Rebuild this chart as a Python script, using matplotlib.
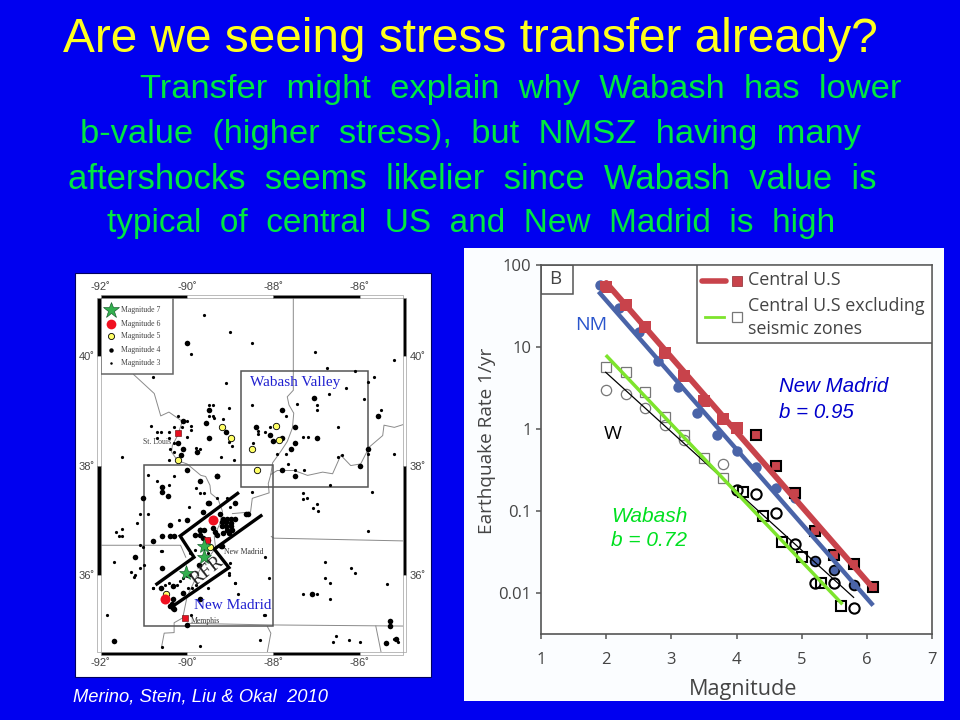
import matplotlib
matplotlib.use("Agg")
import matplotlib.pyplot as plt
from matplotlib.patches import Rectangle
from matplotlib.ticker import NullLocator

# ---- text of the slide ----
title = "Are we seeing stress transfer already?"
body_lines = ["Transfer  might  explain  why  Wabash  has  lower",
              "b-value  (higher  stress),  but  NMSZ  having  many",
              "aftershocks  seems  likelier  since  Wabash  value  is",
              "typical  of  central  US  and  New  Madrid  is  high"]
citation = "Merino, Stein, Liu & Okal  2010"

# ---- recurrence plot ----
red_mag = [2.0, 2.3, 2.6, 2.9, 3.2, 3.5, 3.8, 4.0]
red_rate = [53, 32.5, 17.5, 8.4, 4.4, 2.2, 1.34, 1.02]
red_out_mag = [4.3, 4.6, 4.9, 5.2, 5.5, 5.8, 6.1]
red_out_rate = [0.84, 0.35, 0.166, 0.058, 0.029, 0.023, 0.0118]

blue_mag = [1.9, 2.2, 2.5, 2.8, 3.1, 3.4, 3.7, 4.0, 4.3, 4.6, 4.9]
blue_rate = [57, 30, 15, 6.7, 3.2, 1.57, 0.84, 0.54, 0.34, 0.19, 0.145]
blue_out_mag = [5.2, 5.5, 5.8]
blue_out_rate = [0.025, 0.019, 0.0126]

sq_grey_mag = [2.0, 2.3, 2.6, 2.9, 3.2, 3.5, 3.8]
sq_grey_rate = [5.7, 4.9, 2.8, 1.4, 0.84, 0.44, 0.25]
sq_black_mag = [4.1, 4.4, 4.7, 5.0, 5.3, 5.6]
sq_black_rate = [0.17, 0.088, 0.042, 0.0275, 0.0135, 0.0069]

ci_grey_mag = [2.0, 2.3, 2.6, 2.9, 3.2, 3.8]
ci_grey_rate = [2.95, 2.66, 1.82, 1.12, 0.74, 0.37]
ci_black_mag = [4.0, 4.3, 4.6, 4.9, 5.2, 5.5, 5.8]
ci_black_rate = [0.18, 0.16, 0.095, 0.04, 0.0135, 0.0135, 0.0067]

red_fit_mag, red_fit_rate = [2.0, 6.1], [60, 0.0115]
blue_fit_mag, blue_fit_rate = [1.88, 6.1], [47, 0.0071]
green_fit_mag, green_fit_rate = [2.01, 5.61], [7.65, 0.0076]
black_fit_mag, black_fit_rate = [1.99, 5.8], [4.9, 0.0089]

rate_ticks = [100, 10, 1, 0.1, 0.01]
rate_labels = ["100", "10", "1", "0.1", "0.01"]
mag_ticks = [1, 2, 3, 4, 5, 6, 7]

# ---- seismicity map, lon / lat ----
m3_lon = [-89.6, -89.0, -88.5, -89.9, -87.03, -85.2, -86.76, -86.11, -85.8, -85.67, -90.8, -89.1,
          -86.31, -86.71, -85.91, -88.5, -87.46, -87.0, -87.0, -85.51, -89.5, -89.41, -89.03,
          -87.71, -89.5, -89.41, -89.37, -89.17, -90.21, -90.01, -89.92, -89.92, -90.84, -90.7,
          -90.6, -90.41, -90.31, -90.11, -90.01, -90.7, -90.41, -90.4, -90.31, -90.3, -89.79,
          -89.69, -91.5, -90.42, -89.22, -88.91, -89.03, -88.97, -88.47, -88.09, -88.36, -88.36,
          -88.2, -87.91, -87.7, -87.31, -87.2, -86.5, -85.8, -85.2, -86.5, -86.42, -87.67, -87.3,
          -87.5,
          -90.9, -90.7, -90.3, -90.41, -89.8, -89.7, -89.6, -89.95, -89.3, -89.08, -89.0, -91.1,
          -90.9, -91.17, -90.19, -91.64, -91.51, -91.58, -91.5, -90.59, -91.1, -91.03, -91.7,
          -90.99, -91.1, -91.3, -91.2, -91.24, -90.8, -91.86, -89.92, -89.7, -88.31, -88.2,
          -88.81, -88.9, -88.1, -88.2, -89.03, -87.31, -87.0, -86.7, -86.8, -86.7, -86.8, -86.21,
          -86.11, -85.36, -85.81, -85.71, -87.31, -87.31, -87.22, -86.99, -87.09, -86.97, -86.69,
          -86.56, -86.61, -86.25, -86.0, -85.11, -85.2, -88.5, -90.59,
          -90.24, -90.16, -90.09, -90.01, -89.93, -90.43, -90.51, -90.8, -89.89, -89.8, -89.99,
          -89.51, -89.04, -88.9, -89.0, -90.6, -89.93, -89.82, -89.51, -89.47, -89.72, -88.22]
m3_lat = [40.76, 40.44, 40.24, 40.04, 40.08, 39.93, 39.79, 39.73, 39.53, 39.63, 39.63, 39.52,
          39.42, 39.32, 39.22, 39.11, 39.13, 39.11, 39.02, 39.02, 39.11, 39.11, 39.05,
          38.91, 38.91, 38.91, 38.88, 38.86, 38.91, 38.81, 38.72, 38.66, 38.72, 38.61,
          38.61, 38.61, 38.71, 38.71, 38.52, 38.51, 38.51, 38.31, 38.41, 38.24, 38.33,
          38.31, 38.16, 38.1, 38.16, 38.11, 38.44, 38.36, 38.42, 38.71, 38.64, 38.58,
          38.61, 38.21, 38.21, 38.52, 38.52, 38.71, 38.21, 38.21, 38.15, 38.19, 38.02, 37.91,
          37.91,
          37.83, 37.72, 37.81, 37.65, 37.58, 37.5, 37.5, 37.25, 37.4, 37.4, 37.24, 37.12,
          37.12, 36.95, 37.01, 36.79, 36.84, 36.71, 36.71, 36.43, 36.55, 36.5, 36.23,
          36.18, 36.13, 36.05, 35.99, 35.95, 35.75, 35.27, 35.26, 34.69, 34.81, 35.26,
          35.65, 35.84, 35.94, 36.33, 36.03, 35.65, 35.65, 35.55, 35.94, 35.84, 36.23, 36.13,
          36.03, 35.83, 36.81, 37.51, 37.5, 37.39, 37.4, 37.3, 37.22, 37.16, 37.64,
          34.87, 34.77, 34.81, 34.77, 34.77, 34.83, 37.51, 34.68,
          35.82, 35.88, 35.94, 35.97, 36.0, 35.85, 35.82, 35.75, 35.75, 35.82, 35.75,
          35.75, 36.0, 35.85, 36.22, 36.43, 36.4, 36.46, 36.4, 36.49, 36.18, 35.27]

m4_lon = [-90.0, -87.07, -89.5, -87.81, -85.59, -90.1, -89.57, -88.4, -87.5, -89.1, -89.5, -88.07,
          -87.81, -88.0, -87.0, -90.2, -87.5, -90.1, -87.6, -89.78, -85.81, -90.15, -86.0, -90.0,
          -87.81, -87.5, -89.31,
          -90.59, -90.59, -90.44, -91.03, -89.5, -88.9, -89.7, -89.3, -88.6, -90.0, -90.39, -90.8,
          -90.59, -90.39, -90.3, -91.2, -90.59, -89.7, -91.7, -87.1, -85.3, -85.3, -85.39, -85.16,
          -89.7, -89.22, -90.3, -90.34,
          -89.16, -89.07, -88.99, -88.89, -89.2, -89.1, -88.99, -89.2, -89.1, -88.99, -89.07,
          -88.97, -89.16, -89.04, -89.41, -89.35, -89.3, -89.7, -89.61, -89.62, -89.82, -89.7,
          -89.51, -89.24, -88.63, -89.2, -89.51, -89.62,
          -90.32, -90.61, -90.1, -90.32, -89.72, -90.36, -90.32, -90.4, -90.01]
m4_lat = [40.24, 39.24, 39.02, 39.02, 38.9, 38.81, 38.78, 38.71, 38.71, 38.61, 38.51, 38.56,
          38.51, 38.45, 38.51, 38.41, 38.41, 38.31, 38.31, 38.24, 38.31, 38.19, 38.0, 37.91,
          37.91, 37.81, 37.81,
          37.61, 37.51, 37.45, 37.4, 37.31, 37.31, 37.72, 37.81, 37.11, 37.01, 36.92, 36.62,
          36.71, 36.71, 36.71, 36.32, 36.13, 35.55, 34.78, 35.65, 35.16, 35.07, 34.75, 34.82,
          36.82, 36.53, 35.37, 35.45,
          37.03, 37.03, 37.03, 37.03, 36.97, 36.97, 36.94, 36.89, 36.89, 36.89, 36.82,
          36.82, 36.76, 36.76, 36.85, 36.79, 36.73, 36.82, 36.82, 36.67, 36.73, 36.73,
          36.63, 37.12, 37.11, 36.53, 37.31, 37.15,
          35.79, 35.75, 35.66, 35.55, 36.18, 35.47, 35.39, 35.42, 35.08]

m5_lon = [-89.2, -88.99, -88.5, -87.95, -87.88, -90.2, -88.38, -89.48, -90.48]
m5_lat = [38.71, 38.51, 38.31, 38.72, 38.46, 38.11, 37.92, 36.5, 35.65]
m6_lon = [-89.41, -90.5]
m6_lat = [37.01, 35.55]
m7_lon = [-89.61, -89.61, -90.02]
m7_lat = [36.53, 36.33, 36.04]
city_lon = [-90.2, -90.05, -89.53]
city_lat = [38.59, 35.21, 36.63]

# state lines and rivers
borders = [
    ([-91.24, -90.76, -90.61, -90.42, -90.11, -90.22, -90.34, -90.36, -90.22, -90.0, -89.68, -89.57,
      -89.47, -89.45, -89.28, -89.18, -89.24, -89.37, -89.34, -89.7, -90.0, -90.1, -90.3, -90.3,
      -90.53, -90.59],
     [39.67, 39.32, 38.91, 38.98, 38.81, 38.55, 38.37, 38.25, 38.09, 38.03, 37.82, 37.8,
      37.64, 37.49, 37.38, 37.16, 36.94, 36.7, 36.49, 36.1, 35.6, 35.21, 35.12, 34.94,
      34.93, 34.68]),
    ([-87.54, -87.54, -87.68, -87.64, -87.53, -87.56, -87.68, -87.83, -88.02, -88.06],
     [41.07, 39.38, 39.26, 39.11, 38.96, 38.69, 38.44, 38.26, 38.05, 37.84]),
    ([-88.06, -87.91, -87.52, -87.21, -86.86, -86.63, -86.44, -86.21, -85.98, -85.78, -85.47, -85.44,
      -85.2, -85.0],
     [37.84, 37.91, 37.91, 37.82, 37.88, 37.85, 38.19, 38.0, 38.03, 38.34, 38.55, 38.74,
      38.7, 38.75]),
    ([-88.06, -88.12, -88.1, -88.49, -88.53, -88.95], [37.84, 37.67, 37.5, 37.4, 37.15, 37.12]),
    ([-88.05, -87.99, -85.01], [36.7, 36.67, 36.62]),
    ([-92.0, -90.15, -90.03], [36.54, 36.54, 36.32]),
    ([-89.99, -88.0, -85.01], [35.11, 35.08, 35.06]),
    ([-88.14, -88.06, -88.14], [35.05, 34.93, 34.59]),
    ([-85.63, -85.51], [35.06, 34.59]),
]

# Reelfoot rift outline and the two study boxes
rift_upper_lon = [-88.83, -90.16, -89.84, -90.70]
rift_upper_lat = [37.49, 36.71, 36.32, 35.83]
rift_lower_lon = [-88.29, -89.37, -89.03, -90.32]
rift_lower_lat = [37.08, 36.47, 36.13, 35.43]
wabash_box = (-88.76, 37.61, 2.95, 2.12)
madrid_box = (-91.0, 35.07, 3.0, 2.94)

lon_ticks = [-92, -90, -88, -86]
lon_labels = ["-92˚", "-90˚", "-88˚", "-86˚"]
lat_ticks = [40, 38, 36]
lat_labels = ["40˚", "38˚", "36˚"]


W, H = 960, 720
plt.rcParams['font.family'] = ['Liberation Sans', 'DejaVu Sans']
fig = plt.figure(figsize=(W / 100, H / 100), dpi=100, facecolor='#0000f0')


def px_axes(x0, y0, x1, y1):
    # axes from reference pixel positions
    return fig.add_axes([x0 / W, 1 - y1 / H, (x1 - x0) / W, (y1 - y0) / H])


def px_text(x, y, s, **kw):
    return fig.text(x / W, 1 - y / H, s, **kw)


# white panels behind the two pictures
fig.add_artist(Rectangle((75 / W, 1 - 677 / H), 356 / W, 404 / H, transform=fig.transFigure,
                         fc='white', ec='#000060', lw=0.8, zorder=-1))
fig.add_artist(Rectangle((464 / W, 1 - 701 / H), 480 / W, 453 / H, transform=fig.transFigure,
                         fc='#fbfdff', ec='none', zorder=-1))

# slide text
yellow = '#ffff1e'
green = '#00e840'
px_text(63, 52, title, color=yellow, fontsize=34.4, ha='left', va='baseline')
px_text(140, 98, body_lines[0], color=green, fontsize=24.8, ha='left', va='baseline')
px_text(471, 143, body_lines[1], color=green, fontsize=24.8, ha='center', va='baseline')
px_text(472, 189, body_lines[2], color=green, fontsize=24.9, ha='center', va='baseline')
px_text(471, 232, body_lines[3], color=green, fontsize=24.0, ha='center', va='baseline')
px_text(73, 702, citation, color='white', fontsize=13.2, style='italic', ha='left', va='baseline')

# ---------------- map ----------------
mp = px_axes(100.7, 298, 403, 651.7)
mp.set_xlim(-92, -85)
mp.set_ylim(34.59, 41.07)
for sp in mp.spines.values():
    sp.set_visible(False)

for blon, blat in borders:
    mp.plot(blon, blat, color='#8a8a8a', lw=0.7, zorder=1)

for box in (wabash_box, madrid_box):
    mp.add_patch(Rectangle(box[:2], box[2], box[3], fc='none', ec='#555555', lw=1.1, zorder=2))

mp.plot(m3_lon, m3_lat, 'o', color='black', ms=2.3, mew=0, zorder=3)
mp.plot(m4_lon, m4_lat, 'o', color='black', ms=4.0, mew=0, zorder=3)
mp.plot(rift_upper_lon, rift_upper_lat, color='black', lw=2.4, zorder=4, solid_joinstyle='miter')
mp.plot(rift_lower_lon, rift_lower_lat, color='black', lw=2.4, zorder=4, solid_joinstyle='miter')
mp.plot(m5_lon, m5_lat, 'o', color='#ffff66', mec='black', ms=4.6, mew=0.6, zorder=5)
mp.plot(m6_lon, m6_lat, 'o', color='#f01020', ms=7.2, mew=0, zorder=5)
mp.plot(city_lon, city_lat, 's', color='#e81020', mec='#600000', ms=4.6, mew=0.4, zorder=5)
mp.plot(m7_lon, m7_lat, '*', color='#33b04f', mec='#0a5020', ms=11, mew=0.4, zorder=6)

serif = ['Liberation Serif', 'DejaVu Serif']
mp.text(-88.55, 39.52, "Wabash Valley", color='#2020d0', family=serif, fontsize=11, va='center')
mp.text(-89.85, 35.43, "New Madrid", color='#2020d0', family=serif, fontsize=11, va='center')
mp.text(-89.54, 36.07, "RFR", color='#222222', family=serif, fontsize=14, rotation=38,
        ha='center', va='center', zorder=6)
mp.text(-91.03, 38.43, "St. Louis", color='#444444', family=serif, fontsize=5.6, va='center')
mp.text(-89.14, 36.42, "New Madrid", color='#333333', family=serif, fontsize=5.6, va='center')
mp.text(-89.92, 35.15, "Memphis", color='#333333', family=serif, fontsize=5.6, va='center')

# symbol key
mp.add_patch(Rectangle((-92, 39.67), 1.68, 1.4, fc='white', ec='#666666', lw=1.1, zorder=7))
key_labels = ["Magnitude 7", "Magnitude 6", "Magnitude 5", "Magnitude 4", "Magnitude 3"]
key_lat = [40.85, 40.6, 40.37, 40.12, 39.88]
key_styles = [dict(marker='*', color='#33b04f', mec='#0a5020', ms=12, mew=0.4),
              dict(marker='o', color='#f01020', ms=7, mew=0),
              dict(marker='o', color='#ffff66', mec='black', ms=4.4, mew=0.6),
              dict(marker='o', color='black', ms=3.2, mew=0),
              dict(marker='o', color='black', ms=1.8, mew=0)]
for lab, klat, st in zip(key_labels, key_lat, key_styles):
    mp.plot([-91.75], [klat], zorder=8, **st)
    mp.text(-91.54, klat, lab, color='#444444', family=serif, fontsize=5.6, va='center', zorder=8)

# checkered frame outside the map
mp.set_xticks(lon_ticks, lon_labels)
mp.set_yticks(lat_ticks, lat_labels)
mp.tick_params(length=0, labelsize=8, labelcolor='#444444', pad=4.5,
               top=True, bottom=True, left=True, right=True,
               labeltop=True, labelbottom=True, labelleft=True, labelright=True)
bar_x = 3.4 / 302.3
bar_y = 3.4 / 353.7
for x0, x1, col in [(-92, -90, 'black'), (-90, -88, 'white'), (-88, -86, 'black'), (-86, -85, 'white')]:
    for yy in (1, -bar_y):
        mp.add_patch(Rectangle((x0, yy), x1 - x0, bar_y, transform=mp.get_xaxis_transform(),
                               fc=col, ec='#888888', lw=0.4, clip_on=False))
for y0, y1, col in [(40, 41.07, 'black'), (38, 40, 'white'), (36, 38, 'black'), (34.59, 36, 'white')]:
    for xx in (-bar_x, 1):
        mp.add_patch(Rectangle((xx, y0), bar_x, y1 - y0, transform=mp.get_yaxis_transform(),
                               fc=col, ec='#888888', lw=0.4, clip_on=False))

# ---------------- recurrence plot ----------------
ax = px_axes(541.3, 264.7, 931.7, 634.3)
ax.set_xscale('linear')
ax.set_yscale('log')
ax.set_xlim(1, 7)
ax.set_ylim(10 ** -2.5, 100)

sans = ['Open Sans', 'DejaVu Sans']
red = '#c8434b'
blue = '#4a64a8'
lime = '#7de42c'

ax.plot(blue_mag, blue_rate, 'o', color=blue, ms=7.5, mew=0, zorder=2)
ax.plot(blue_out_mag, blue_out_rate, 'o', color=blue, mec='black', ms=7, mew=1.3, zorder=3)
ax.plot(red_mag, red_rate, 's', color=red, ms=8, mew=0, zorder=2)
ax.plot(red_out_mag, red_out_rate, 's', color=red, mec='black', ms=7.5, mew=1.5, zorder=2)
ax.plot(sq_grey_mag, sq_grey_rate, 's', mfc='none', mec='#777777', ms=7.6, mew=0.9, zorder=3)
ax.plot(ci_grey_mag, ci_grey_rate, 'o', mfc='none', mec='#777777', ms=7.4, mew=0.9, zorder=3)
ax.plot(sq_black_mag, sq_black_rate, 's', mfc='none', mec='black', ms=7.6, mew=1.5, zorder=3)
ax.plot(ci_black_mag, ci_black_rate, 'o', mfc='none', mec='black', ms=7.4, mew=1.5, zorder=3)

ax.plot(red_fit_mag, red_fit_rate, color=red, lw=4.2, zorder=4, solid_capstyle='round')
ax.plot(blue_fit_mag, blue_fit_rate, color=blue, lw=3.2, zorder=4, solid_capstyle='butt')
ax.plot(black_fit_mag, black_fit_rate, color='black', lw=0.9, zorder=4)
ax.plot(green_fit_mag, green_fit_rate, color=lime, lw=2.5, zorder=5)

for sp in ax.spines.values():
    sp.set_color('#555555')
    sp.set_linewidth(1.2)
ax.set_xticks(mag_ticks, [str(m) for m in mag_ticks])
ax.set_yticks(rate_ticks, rate_labels)
ax.yaxis.set_minor_locator(NullLocator())
ax.tick_params(length=3.5, width=1.1, color='#555555', labelcolor='#444444', labelsize=12, pad=3.5)
for lab in ax.get_xticklabels() + ax.get_yticklabels():
    lab.set_family(sans)
ax.tick_params(axis='x', pad=9)

px_text(487, 441, "Earthquake Rate 1/yr", family=sans, color='#444444', fontsize=13.7,
        rotation=90, ha='center', va='center')
px_text(743, 689, "Magnitude", family=sans, color='#444444', fontsize=15.6, ha='center', va='center')

# panel letter
ax.add_patch(Rectangle((0, 0.921), 0.082, 0.079, transform=ax.transAxes, fc='none', ec='#555555', lw=1.1))
ax.text(0.036, 0.961, "B", transform=ax.transAxes, family=sans, color='#444444', fontsize=13.5,
        ha='center', va='center')

# key of the plot
ax.add_patch(Rectangle((0.4, 0.788), 0.6, 0.212, transform=ax.transAxes, fc='white', ec='#555555',
                       lw=1.1, zorder=6))
ax.plot([0.412, 0.473], [0.956, 0.956], transform=ax.transAxes, color=red, lw=4, zorder=7,
        solid_capstyle='round')
ax.plot([0.502], [0.956], 's', transform=ax.transAxes, color=red, mec='#8a2a30', ms=7, mew=0.5, zorder=7)
ax.plot([0.42, 0.468], [0.858, 0.858], transform=ax.transAxes, color=lime, lw=2, zorder=7)
ax.plot([0.502], [0.858], 's', transform=ax.transAxes, mfc='none', mec='#777777', ms=7, mew=0.9, zorder=7)
for yy, s in [(0.9586, "Central U.S"), (0.888, "Central U.S excluding"), (0.826, "seismic zones")]:
    ax.text(0.5285, yy, s, transform=ax.transAxes, family=sans, color='#444444', fontsize=12.9,
            ha='left', va='center', zorder=7)

# slide annotations on the plot
px_text(590.7, 325, "NM", family=sans, color='#2a55cc', fontsize=14, ha='center', va='center')
px_text(613, 434, "W", family=sans, color='black', fontsize=14, ha='center', va='center')
px_text(779, 387, "New Madrid", color='#0000cc', fontsize=14.8, style='italic', va='center')
px_text(779, 412, "b = 0.95", color='#0000cc', fontsize=14.8, style='italic', va='center')
px_text(611, 516, "Wabash", color='#00e020', fontsize=15, style='italic', va='center')
px_text(611, 541, "b = 0.72", color='#00e020', fontsize=15, style='italic', va='center')

fig.savefig("out.png", dpi=100, facecolor=fig.get_facecolor())
